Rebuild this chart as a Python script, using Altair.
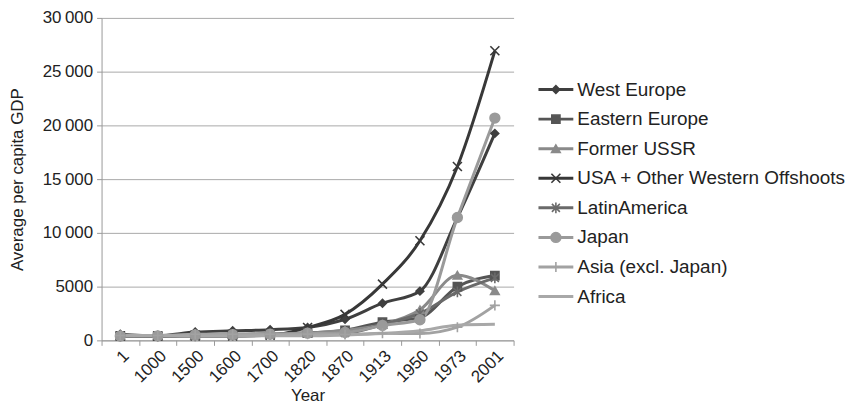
import altair as alt
import pandas as pd

years = ["1", "1000", "1500", "1600", "1700", "1820", "1870", "1913", "1950", "1973", "2001"]
regions = ["West Europe", "Eastern Europe", "Former USSR", "USA + Other Western Offshoots",
           "LatinAmerica", "Japan", "Asia (excl. Japan)", "Africa"]

west_europe = [576, 427, 771, 889, 997, 1202, 1960, 3458, 4579, 11416, 19256]
eastern_europe = [412, 400, 496, 548, 606, 683, 937, 1695, 2111, 4988, 6027]
former_ussr = [400, 400, 499, 552, 610, 688, 943, 1488, 2841, 6059, 4626]
western_offshoots = [400, 400, 400, 400, 476, 1202, 2419, 5233, 9268, 16179, 26943]
latin_america = [400, 400, 416, 438, 527, 692, 681, 1481, 2506, 4504, 5811]
japan = [400, 425, 500, 520, 570, 669, 737, 1387, 1921, 11434, 20683]
asia = [450, 450, 572, 575, 571, 577, 550, 658, 634, 1226, 3256]
africa = [472, 425, 414, 422, 421, 420, 500, 637, 894, 1410, 1489]

series = [west_europe, eastern_europe, former_ussr, western_offshoots,
          latin_america, japan, asia, africa]

colors = ["#3f3f3f", "#555555", "#8a8a8a", "#383838", "#6a6a6a", "#9a9a9a", "#a2a2a2", "#a8a8a8"]
shapes = ["diamond", "square", "triangle-up", "M-1,-1L1,1M-1,1L1,-1",
          "M-0.85,-0.85L0.85,0.85M-0.85,0.85L0.85,-0.85M0,-1.15V1.15",
          "circle", "M-1,0H1M0,-1V1", "circle"]
sizes = [60, 110, 130, 150, 150, 150, 170, 0]

rows = []
for i, (r, vals) in enumerate(zip(regions, series)):
    for y, v in zip(years, vals):
        rows.append({"Region": r, "Year": y, "GDP": v, "order": i})
df = pd.DataFrame(rows)

leg_df = pd.DataFrame({"Region": regions, "order": list(range(len(regions)))})

FONT = "Liberation Sans"
color_scale = alt.Scale(domain=regions, range=colors)
shape_scale = alt.Scale(domain=regions, range=shapes)
size_scale = alt.Scale(domain=regions, range=sizes)

x_enc = alt.X("Year:N", sort=years, title="Year",
              scale=alt.Scale(paddingInner=0, paddingOuter=0),
              axis=alt.Axis(labelAngle=-45, tickBand="extent", grid=False,
                            labelFontSize=17, titleFontSize=17, labelPadding=2,
                            titleFontWeight="normal", titlePadding=2,
                            domainColor="#999999", tickColor="#999999", tickSize=5,
                            labelColor="#222222", titleColor="#222222"))
y_enc = alt.Y("GDP:Q", title="Average per capita GDP",
              scale=alt.Scale(domain=[0, 30000], nice=False),
              axis=alt.Axis(values=[0, 5000, 10000, 15000, 20000, 25000, 30000],
                            labelExpr="datum.value >= 10000 ? replace(format(datum.value, ','), ',', '\u2009') : format(datum.value, 'd')",
                            labelFontSize=17, titleFontSize=17, titleFontWeight="normal",
                            gridColor="#a8a8a8", domainColor="#999999", tickColor="#999999",
                            tickSize=5, labelPadding=4, titlePadding=16,
                            labelColor="#222222", titleColor="#222222"))

base = alt.Chart(df)
lines = base.mark_line(interpolate="monotone", strokeWidth=3).encode(
    x=x_enc, y=y_enc,
    color=alt.Color("Region:N", scale=color_scale, legend=None),
    order=alt.Order("order:Q"),
)
points = base.transform_filter(alt.datum.Region != "Africa").mark_point(
    filled=False, strokeWidth=1.6, opacity=1).encode(
    x=alt.X("Year:N", sort=years),
    y="GDP:Q",
    shape=alt.Shape("Region:N", scale=shape_scale, legend=None),
    fill=alt.Fill("Region:N", scale=color_scale, legend=None),
    stroke=alt.Stroke("Region:N", scale=color_scale, legend=None),
    size=alt.Size("Region:N", scale=size_scale, legend=None),
)
main = alt.layer(lines, points).properties(width=414, height=324)

leg_y = alt.Y("Region:N", sort=regions, axis=None,
              scale=alt.Scale(type="point", range=[72, 280], padding=0))
leg_base = alt.Chart(leg_df)
leg_rule = leg_base.mark_rule(strokeWidth=3).encode(
    x=alt.value(0), x2=alt.value(35), y=leg_y,
    color=alt.Color("Region:N", scale=color_scale, legend=None))
leg_pt = leg_base.transform_filter(alt.datum.Region != "Africa").mark_point(
    filled=False, strokeWidth=1.6, opacity=1).encode(
    x=alt.value(17.5), y=leg_y,
    shape=alt.Shape("Region:N", scale=shape_scale, legend=None),
    fill=alt.Fill("Region:N", scale=color_scale, legend=None),
    stroke=alt.Stroke("Region:N", scale=color_scale, legend=None),
    size=alt.Size("Region:N", scale=size_scale, legend=None))
leg_txt = leg_base.mark_text(align="left", baseline="middle", fontSize=19, font=FONT,
                             color="#222222").encode(
    x=alt.value(39), y=leg_y, text="Region:N")
legend = alt.layer(leg_rule, leg_pt, leg_txt).properties(width=272, height=352)

chart = alt.hconcat(main, legend, spacing=25, bounds="flush").resolve_scale(
    color="shared", shape="shared", size="shared").properties(
    padding={"left": 0, "top": 0, "right": 0, "bottom": 0}).configure(
    font=FONT).configure_view(stroke=None).configure_axis(labelFont=FONT, titleFont=FONT)

chart.save("out.html", embed_options={"renderer": "svg", "actions": False})
